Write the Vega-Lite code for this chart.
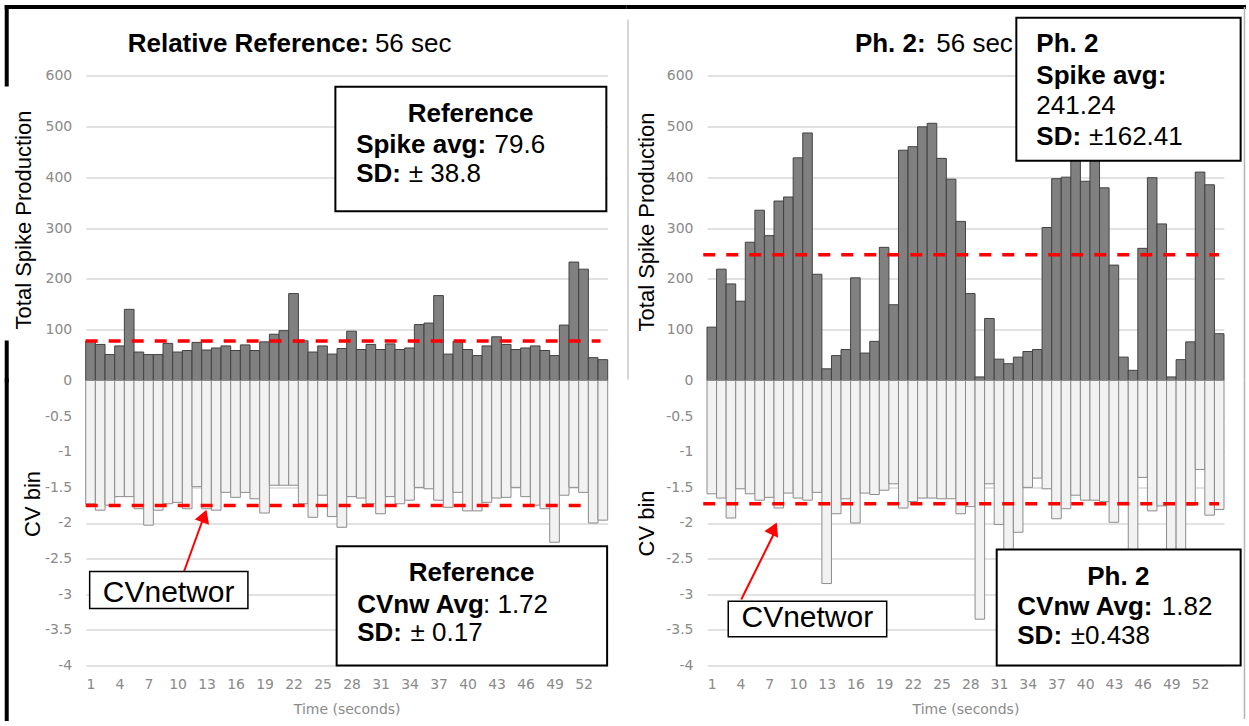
{
  "$schema": "https://vega.github.io/schema/vega-lite/v6.json",
  "background": "white",
  "padding": {"left": 3.7, "top": 3.5, "right": 0, "bottom": 0},
  "config": {
    "view": {"stroke": null},
    "axis": {"domain": false, "ticks": false, "gridColor": "#d9d9d9", "gridWidth": 1.5, "labelColor": "#8a8a8a", "labelFont": "DejaVu Sans", "labelFontSize": 14, "titleFontWeight": "normal"},
    "axisY": {"minExtent": 36, "maxExtent": 36, "labelPadding": 14, "titleFont": "Liberation Sans", "titleFontSize": 22, "titleColor": "#000000"},
    "axisX": {"labelPadding": 12, "titleFont": "DejaVu Sans", "titleFontSize": 14, "titleColor": "#8a8a8a", "titlePadding": 11, "grid": false}
  },
  "datasets": {
    "ref": [
      {"t":1,"spikes":78,"cv":-1.73},{"t":2,"spikes":71,"cv":-1.82},{"t":3,"spikes":51,"cv":-1.75},{"t":4,"spikes":68,"cv":-1.63},{"t":5,"spikes":140,"cv":-1.63},{"t":6,"spikes":56,"cv":-1.80},{"t":7,"spikes":51,"cv":-2.03},{"t":8,"spikes":51,"cv":-1.82},{"t":9,"spikes":73,"cv":-1.73},{"t":10,"spikes":56,"cv":-1.71},
      {"t":11,"spikes":59,"cv":-1.80},{"t":12,"spikes":75,"cv":-1.49},{"t":13,"spikes":60,"cv":-1.80},{"t":14,"spikes":64,"cv":-1.82},{"t":15,"spikes":68,"cv":-1.57},{"t":16,"spikes":59,"cv":-1.64},{"t":17,"spikes":70,"cv":-1.57},{"t":18,"spikes":59,"cv":-1.66},{"t":19,"spikes":76,"cv":-1.86},{"t":20,"spikes":91,"cv":-1.47},
      {"t":21,"spikes":98,"cv":-1.47},{"t":22,"spikes":171,"cv":-1.47},{"t":23,"spikes":78,"cv":-1.73},{"t":24,"spikes":56,"cv":-1.92},{"t":25,"spikes":68,"cv":-1.61},{"t":26,"spikes":52,"cv":-1.91},{"t":27,"spikes":63,"cv":-2.06},{"t":28,"spikes":97,"cv":-1.63},{"t":29,"spikes":61,"cv":-1.65},{"t":30,"spikes":71,"cv":-1.73},
      {"t":31,"spikes":61,"cv":-1.87},{"t":32,"spikes":72,"cv":-1.63},{"t":33,"spikes":61,"cv":-1.73},{"t":34,"spikes":64,"cv":-1.68},{"t":35,"spikes":110,"cv":-1.50},{"t":36,"spikes":113,"cv":-1.52},{"t":37,"spikes":167,"cv":-1.68},{"t":38,"spikes":52,"cv":-1.78},{"t":39,"spikes":77,"cv":-1.57},{"t":40,"spikes":61,"cv":-1.83},
      {"t":41,"spikes":49,"cv":-1.83},{"t":42,"spikes":68,"cv":-1.71},{"t":43,"spikes":86,"cv":-1.65},{"t":44,"spikes":71,"cv":-1.64},{"t":45,"spikes":61,"cv":-1.50},{"t":46,"spikes":64,"cv":-1.63},{"t":47,"spikes":68,"cv":-1.75},{"t":48,"spikes":59,"cv":-1.80},{"t":49,"spikes":49,"cv":-2.27},{"t":50,"spikes":109,"cv":-1.61},
      {"t":51,"spikes":233,"cv":-1.50},{"t":52,"spikes":219,"cv":-1.57},{"t":53,"spikes":45,"cv":-2.00},{"t":54,"spikes":41,"cv":-1.96}
    ],
    "ph2": [
      {"t":1,"spikes":105,"cv":-1.59},{"t":2,"spikes":219,"cv":-1.65},{"t":3,"spikes":190,"cv":-1.93},{"t":4,"spikes":156,"cv":-1.52},{"t":5,"spikes":272,"cv":-1.59},{"t":6,"spikes":335,"cv":-1.68},{"t":7,"spikes":285,"cv":-1.64},{"t":8,"spikes":353,"cv":-1.79},{"t":9,"spikes":361,"cv":-1.58},{"t":10,"spikes":438,"cv":-1.65},
      {"t":11,"spikes":487,"cv":-1.68},{"t":12,"spikes":209,"cv":-1.57},{"t":13,"spikes":23,"cv":-2.85},{"t":14,"spikes":49,"cv":-1.87},{"t":15,"spikes":61,"cv":-1.66},{"t":16,"spikes":202,"cv":-2.00},{"t":17,"spikes":54,"cv":-1.58},{"t":18,"spikes":77,"cv":-1.60},{"t":19,"spikes":262,"cv":-1.54},{"t":20,"spikes":149,"cv":-1.45},
      {"t":21,"spikes":453,"cv":-1.79},{"t":22,"spikes":460,"cv":-1.70},{"t":23,"spikes":499,"cv":-1.65},{"t":24,"spikes":506,"cv":-1.65},{"t":25,"spikes":437,"cv":-1.66},{"t":26,"spikes":396,"cv":-1.66},{"t":27,"spikes":313,"cv":-1.87},{"t":28,"spikes":171,"cv":-1.77},{"t":29,"spikes":7,"cv":-3.35},{"t":30,"spikes":122,"cv":-1.45},
      {"t":31,"spikes":42,"cv":-2.02},{"t":32,"spikes":33,"cv":-2.45},{"t":33,"spikes":46,"cv":-2.13},{"t":34,"spikes":57,"cv":-1.50},{"t":35,"spikes":61,"cv":-1.37},{"t":36,"spikes":301,"cv":-1.52},{"t":37,"spikes":397,"cv":-1.94},{"t":38,"spikes":400,"cv":-1.80},{"t":39,"spikes":470,"cv":-1.61},{"t":40,"spikes":392,"cv":-1.68},
      {"t":41,"spikes":455,"cv":-1.68},{"t":42,"spikes":379,"cv":-1.70},{"t":43,"spikes":227,"cv":-1.99},{"t":44,"spikes":46,"cv":-1.71},{"t":45,"spikes":20,"cv":-2.50},{"t":46,"spikes":260,"cv":-1.36},{"t":47,"spikes":399,"cv":-1.83},{"t":48,"spikes":308,"cv":-1.76},{"t":49,"spikes":7,"cv":-2.45},{"t":50,"spikes":41,"cv":-2.38},
      {"t":51,"spikes":76,"cv":-1.75},{"t":52,"spikes":410,"cv":-1.25},{"t":53,"spikes":385,"cv":-1.89},{"t":54,"spikes":92,"cv":-1.81}
    ]
  },
  "columns": 2,
  "align": "each",
  "bounds": "flush",
  "spacing": {"row": 0, "column": 99.3},
  "concat": [
    {
      "width": 522, "height": 305,
      "layer": [
        {"data": {"name": "ref"},
         "mark": {"type": "bar", "orient": "vertical", "width": 9.67, "fill": "#808080", "stroke": "#404040", "strokeWidth": 1},
         "encoding": {
           "x": {"field": "t", "type": "quantitative", "scale": {"domain": [0.5, 54.5], "nice": false, "zero": false, "padding": 0}, "axis": null},
           "y": {"field": "spikes", "type": "quantitative", "scale": {"domain": [0, 600], "nice": false}, "axis": {"values": [0,100,200,300,400,500,600], "tickCount": 20, "grid": true, "title": "Total Spike Production", "titlePadding": 14, "titleY": 144}}
         }},
        {"data": {"values": [{}]}, "mark": {"type": "rule", "color": "#000000", "strokeWidth": 4, "strokeCap": "square"},
         "encoding": {"x": {"datum": -7.67}, "x2": {"datum": 56.27}, "y": {"datum": 734.8}}},
        {"data": {"values": [{}]}, "mark": {"type": "rule", "color": "#000000", "strokeWidth": 4, "strokeCap": "square"},
         "encoding": {"x": {"datum": -7.67}, "y": {"datum": 734.8}, "y2": {"datum": 582.3}}},
        {"data": {"values": [{}]}, "mark": {"type": "rule", "color": "#000000", "strokeWidth": 4, "strokeCap": "square"},
         "encoding": {"x": {"datum": -7.67}, "y": {"datum": 74.8}, "y2": {"datum": 0}}},
        {"data": {"values": [{}]}, "mark": {"type": "rule", "color": "#ff0000", "strokeWidth": 3.5, "strokeDash": [12, 11]},
         "encoding": {"x": {"datum": 0.5}, "x2": {"datum": 53.76}, "y": {"datum": 77.5}}},
        {"data": {"values": [{}]}, "mark": {"type": "text", "text": "Relative Reference:", "font": "Liberation Sans", "fontSize": 26, "fontWeight": "bold", "align": "right", "baseline": "middle", "color": "#000000"},
         "encoding": {"x": {"datum": 29.8}, "y": {"datum": 661}}},
        {"data": {"values": [{}]}, "mark": {"type": "text", "text": "56 sec", "font": "Liberation Sans", "fontSize": 26, "align": "left", "baseline": "middle", "color": "#000000"},
         "encoding": {"x": {"datum": 30.42}, "y": {"datum": 661}}},
        {"data": {"values": [{}]}, "mark": {"type": "rect", "fill": "white", "stroke": "#000000", "strokeWidth": 2},
         "encoding": {"x": {"datum": 26.33}, "x2": {"datum": 54.36}, "y": {"datum": 577.8}, "y2": {"datum": 333.1}}},
        {"data": {"values": [{}]}, "mark": {"type": "text", "text": "Reference", "font": "Liberation Sans", "fontSize": 26, "fontWeight": "bold", "align": "center", "baseline": "middle", "color": "#000000"},
         "encoding": {"x": {"datum": 40.31}, "y": {"datum": 524.7}}},
        {"data": {"values": [{}]}, "mark": {"type": "text", "text": "Spike avg:", "font": "Liberation Sans", "fontSize": 26, "fontWeight": "bold", "align": "left", "baseline": "middle", "color": "#000000"},
         "encoding": {"x": {"datum": 28.48}, "y": {"datum": 462.3}}},
        {"data": {"values": [{}]}, "mark": {"type": "text", "text": "79.6", "font": "Liberation Sans", "fontSize": 26, "align": "left", "baseline": "middle", "color": "#000000"},
         "encoding": {"x": {"datum": 42.8}, "y": {"datum": 462.3}}},
        {"data": {"values": [{}]}, "mark": {"type": "text", "text": "SD:", "font": "Liberation Sans", "fontSize": 26, "fontWeight": "bold", "align": "left", "baseline": "middle", "color": "#000000"},
         "encoding": {"x": {"datum": 28.48}, "y": {"datum": 405.3}}},
        {"data": {"values": [{}]}, "mark": {"type": "text", "text": "± 38.8", "font": "Liberation Sans", "fontSize": 26, "align": "left", "baseline": "middle", "color": "#000000"},
         "encoding": {"x": {"datum": 33.93}, "y": {"datum": 405.3}}}
      ]
    },
    {
      "width": 517, "height": 305,
      "layer": [
        {"data": {"name": "ph2"},
         "mark": {"type": "bar", "orient": "vertical", "width": 9.57, "fill": "#808080", "stroke": "#404040", "strokeWidth": 1},
         "encoding": {
           "x": {"field": "t", "type": "quantitative", "scale": {"domain": [0.5, 54.5], "nice": false, "zero": false, "padding": 0}, "axis": null},
           "y": {"field": "spikes", "type": "quantitative", "scale": {"domain": [0, 600], "nice": false}, "axis": {"values": [0,100,200,300,400,500,600], "tickCount": 20, "grid": true, "title": "Total Spike Production", "titlePadding": 12, "titleY": 146}}
         }},
        {"data": {"values": [{}]}, "mark": {"type": "rule", "color": "#000000", "strokeWidth": 4, "strokeCap": "square"},
         "encoding": {"x": {"datum": -7.65}, "x2": {"datum": 56.59}, "y": {"datum": 734.8}}},
        {"data": {"values": [{}]}, "mark": {"type": "rule", "color": "#c8c8c8", "strokeWidth": 1.5},
         "encoding": {"x": {"datum": -7.75}, "y": {"datum": 710.2}, "y2": {"datum": 2}}},
        {"data": {"values": [{}]}, "mark": {"type": "rule", "color": "#b4b4b4", "strokeWidth": 1.5},
         "encoding": {"x": {"datum": 56.64}, "y": {"datum": 734.8}, "y2": {"datum": 0}}},
        {"data": {"values": [{}]}, "mark": {"type": "rule", "color": "#ff0000", "strokeWidth": 3.5, "strokeDash": [12, 11]},
         "encoding": {"x": {"datum": 0.11}, "x2": {"datum": 53.98}, "y": {"datum": 247.3}}},
        {"data": {"values": [{}]}, "mark": {"type": "text", "text": "Ph. 2:", "font": "Liberation Sans", "fontSize": 26, "fontWeight": "bold", "align": "right", "baseline": "middle", "color": "#000000"},
         "encoding": {"x": {"datum": 23.34}, "y": {"datum": 661}}},
        {"data": {"values": [{}]}, "mark": {"type": "text", "text": "56 sec", "font": "Liberation Sans", "fontSize": 26, "align": "left", "baseline": "middle", "color": "#000000"},
         "encoding": {"x": {"datum": 24.45}, "y": {"datum": 661}}},
        {"data": {"values": [{}]}, "mark": {"type": "rect", "fill": "white", "stroke": "#000000", "strokeWidth": 2},
         "encoding": {"x": {"datum": 32.81}, "x2": {"datum": 56.24}, "y": {"datum": 713.5}, "y2": {"datum": 432.2}}},
        {"data": {"values": [{}]}, "mark": {"type": "text", "text": "Ph. 2", "font": "Liberation Sans", "fontSize": 26, "fontWeight": "bold", "align": "left", "baseline": "middle", "color": "#000000"},
         "encoding": {"x": {"datum": 34.9}, "y": {"datum": 661}}},
        {"data": {"values": [{}]}, "mark": {"type": "text", "text": "Spike avg:", "font": "Liberation Sans", "fontSize": 26, "fontWeight": "bold", "align": "left", "baseline": "middle", "color": "#000000"},
         "encoding": {"x": {"datum": 34.9}, "y": {"datum": 600}}},
        {"data": {"values": [{}]}, "mark": {"type": "text", "text": "241.24", "font": "Liberation Sans", "fontSize": 26, "align": "left", "baseline": "middle", "color": "#000000"},
         "encoding": {"x": {"datum": 34.9}, "y": {"datum": 539.6}}},
        {"data": {"values": [{}]}, "mark": {"type": "text", "text": "SD:", "font": "Liberation Sans", "fontSize": 26, "fontWeight": "bold", "align": "left", "baseline": "middle", "color": "#000000"},
         "encoding": {"x": {"datum": 34.9}, "y": {"datum": 479.4}}},
        {"data": {"values": [{}]}, "mark": {"type": "text", "text": "±162.41", "font": "Liberation Sans", "fontSize": 26, "align": "left", "baseline": "middle", "color": "#000000"},
         "encoding": {"x": {"datum": 40.4}, "y": {"datum": 479.4}}}
      ]
    },
    {
      "width": 522, "height": 285,
      "layer": [
        {"data": {"name": "ref"},
         "mark": {"type": "bar", "orient": "vertical", "width": 9.67, "fill": "#f2f2f2", "stroke": "#8c8c8c", "strokeWidth": 1},
         "encoding": {
           "x": {"field": "t", "type": "quantitative", "scale": {"domain": [0.5, 54.5], "nice": false, "zero": false, "padding": 0}, "axis": {"values": [1,4,7,10,13,16,19,22,25,28,31,34,37,40,43,46,49,52], "tickCount": 60, "format": "d", "labelOverlap": false, "title": "Time (seconds)"}},
           "y": {"field": "cv", "type": "quantitative", "scale": {"domain": [-4, 0], "nice": false}, "axis": {"values": [-0.5,-1,-1.5,-2,-2.5,-3,-3.5,-4], "tickCount": 20, "labelExpr": "'' + datum.value", "grid": true, "title": "CV bin", "titlePadding": 5, "titleY": 123}}
         }},
        {"data": {"values": [{}]}, "mark": {"type": "rule", "color": "#000000", "strokeWidth": 4, "strokeCap": "square"},
         "encoding": {"x": {"datum": -7.67}, "y": {"datum": 0}, "y2": {"datum": -4.75}}},
        {"data": {"values": [{}]}, "mark": {"type": "rule", "color": "#ff0000", "strokeWidth": 3.5, "strokeDash": [12, 11]},
         "encoding": {"x": {"datum": 0.5}, "x2": {"datum": 52.03}, "y": {"datum": -1.755}}},
        {"data": {"values": [{}]}, "mark": {"type": "rule", "color": "#ff0000", "strokeWidth": 2},
         "encoding": {"x": {"datum": 10.67}, "x2": {"datum": 12.58}, "y": {"datum": -2.681}, "y2": {"datum": -1.965}}},
        {"data": {"values": [{}]}, "mark": {"type": "point", "shape": "triangle-up", "filled": true, "color": "#ff0000", "opacity": 1, "size": 230, "angle": 20},
         "encoding": {"x": {"datum": 12.76}, "y": {"datum": -1.902}}},
        {"data": {"values": [{}]}, "mark": {"type": "rect", "fill": "white", "stroke": "#000000", "strokeWidth": 1.5},
         "encoding": {"x": {"datum": 0.91}, "x2": {"datum": 17.28}, "y": {"datum": -2.681}, "y2": {"datum": -3.2}}},
        {"data": {"values": [{}]}, "mark": {"type": "text", "text": "CVnetwor", "font": "Liberation Sans", "fontSize": 30, "align": "center", "baseline": "middle", "color": "#000000"},
         "encoding": {"x": {"datum": 9.08}, "y": {"datum": -2.98}}},
        {"data": {"values": [{}]}, "mark": {"type": "rect", "fill": "white", "stroke": "#000000", "strokeWidth": 2},
         "encoding": {"x": {"datum": 26.46}, "x2": {"datum": 54.44}, "y": {"datum": -2.326}, "y2": {"datum": -4.0}}},
        {"data": {"values": [{}]}, "mark": {"type": "text", "text": "Reference", "font": "Liberation Sans", "fontSize": 26, "fontWeight": "bold", "align": "center", "baseline": "middle", "color": "#000000"},
         "encoding": {"x": {"datum": 40.42}, "y": {"datum": -2.699}}},
        {"data": {"values": [{}]}, "mark": {"type": "text", "text": "CVnw Avg", "font": "Liberation Sans", "fontSize": 26, "fontWeight": "bold", "align": "left", "baseline": "middle", "color": "#000000"},
         "encoding": {"x": {"datum": 28.59}, "y": {"datum": -3.144}}},
        {"data": {"values": [{}]}, "mark": {"type": "text", "text": ": 1.72", "font": "Liberation Sans", "fontSize": 26, "align": "left", "baseline": "middle", "color": "#000000"},
         "encoding": {"x": {"datum": 41.6}, "y": {"datum": -3.144}}},
        {"data": {"values": [{}]}, "mark": {"type": "text", "text": "SD:", "font": "Liberation Sans", "fontSize": 26, "fontWeight": "bold", "align": "left", "baseline": "middle", "color": "#000000"},
         "encoding": {"x": {"datum": 28.59}, "y": {"datum": -3.541}}},
        {"data": {"values": [{}]}, "mark": {"type": "text", "text": "± 0.17", "font": "Liberation Sans", "fontSize": 26, "align": "left", "baseline": "middle", "color": "#000000"},
         "encoding": {"x": {"datum": 34.11}, "y": {"datum": -3.541}}}
      ]
    },
    {
      "width": 517, "height": 285,
      "layer": [
        {"data": {"name": "ph2"},
         "mark": {"type": "bar", "orient": "vertical", "width": 9.57, "fill": "#f2f2f2", "stroke": "#8c8c8c", "strokeWidth": 1},
         "encoding": {
           "x": {"field": "t", "type": "quantitative", "scale": {"domain": [0.5, 54.5], "nice": false, "zero": false, "padding": 0}, "axis": {"values": [1,4,7,10,13,16,19,22,25,28,31,34,37,40,43,46,49,52], "tickCount": 60, "format": "d", "labelOverlap": false, "title": "Time (seconds)"}},
           "y": {"field": "cv", "type": "quantitative", "scale": {"domain": [-4, 0], "nice": false}, "axis": {"values": [-0.5,-1,-1.5,-2,-2.5,-3,-3.5,-4], "tickCount": 20, "labelExpr": "'' + datum.value", "grid": true, "title": "CV bin", "titlePadding": 12}}
         }},
        {"data": {"values": [{}]}, "mark": {"type": "rule", "color": "#b4b4b4", "strokeWidth": 1.5},
         "encoding": {"x": {"datum": 56.64}, "y": {"datum": 0}, "y2": {"datum": -4.75}}},
        {"data": {"values": [{}]}, "mark": {"type": "rule", "color": "#ff0000", "strokeWidth": 3.5, "strokeDash": [12, 11]},
         "encoding": {"x": {"datum": 0.11}, "x2": {"datum": 53.98}, "y": {"datum": -1.731}}},
        {"data": {"values": [{}]}, "mark": {"type": "rule", "color": "#ff0000", "strokeWidth": 2},
         "encoding": {"x": {"datum": 4.08}, "x2": {"datum": 7.45}, "y": {"datum": -3.074}, "y2": {"datum": -2.161}}},
        {"data": {"values": [{}]}, "mark": {"type": "point", "shape": "triangle-up", "filled": true, "color": "#ff0000", "opacity": 1, "size": 230, "angle": 24.8},
         "encoding": {"x": {"datum": 7.5}, "y": {"datum": -2.077}}},
        {"data": {"values": [{}]}, "mark": {"type": "rect", "fill": "white", "stroke": "#000000", "strokeWidth": 1.5},
         "encoding": {"x": {"datum": 2.72}, "x2": {"datum": 19.27}, "y": {"datum": -3.098}, "y2": {"datum": -3.597}}},
        {"data": {"values": [{}]}, "mark": {"type": "text", "text": "CVnetwor", "font": "Liberation Sans", "fontSize": 30, "align": "center", "baseline": "middle", "color": "#000000"},
         "encoding": {"x": {"datum": 10.98}, "y": {"datum": -3.331}}},
        {"data": {"values": [{}]}, "mark": {"type": "rect", "fill": "white", "stroke": "#000000", "strokeWidth": 2},
         "encoding": {"x": {"datum": 30.76}, "x2": {"datum": 56.24}, "y": {"datum": -2.372}, "y2": {"datum": -4.0}}},
        {"data": {"values": [{}]}, "mark": {"type": "text", "text": "Ph. 2", "font": "Liberation Sans", "fontSize": 26, "fontWeight": "bold", "align": "center", "baseline": "middle", "color": "#000000"},
         "encoding": {"x": {"datum": 43.46}, "y": {"datum": -2.755}}},
        {"data": {"values": [{}]}, "mark": {"type": "text", "text": "CVnw Avg:", "font": "Liberation Sans", "fontSize": 26, "fontWeight": "bold", "align": "left", "baseline": "middle", "color": "#000000"},
         "encoding": {"x": {"datum": 32.91}, "y": {"datum": -3.176}}},
        {"data": {"values": [{}]}, "mark": {"type": "text", "text": "1.82", "font": "Liberation Sans", "fontSize": 26, "align": "left", "baseline": "middle", "color": "#000000"},
         "encoding": {"x": {"datum": 48.0}, "y": {"datum": -3.176}}},
        {"data": {"values": [{}]}, "mark": {"type": "text", "text": "SD:", "font": "Liberation Sans", "fontSize": 26, "fontWeight": "bold", "align": "left", "baseline": "middle", "color": "#000000"},
         "encoding": {"x": {"datum": 32.91}, "y": {"datum": -3.589}}},
        {"data": {"values": [{}]}, "mark": {"type": "text", "text": "±0.438", "font": "Liberation Sans", "fontSize": 26, "align": "left", "baseline": "middle", "color": "#000000"},
         "encoding": {"x": {"datum": 38.49}, "y": {"datum": -3.589}}}
      ]
    }
  ]
}
